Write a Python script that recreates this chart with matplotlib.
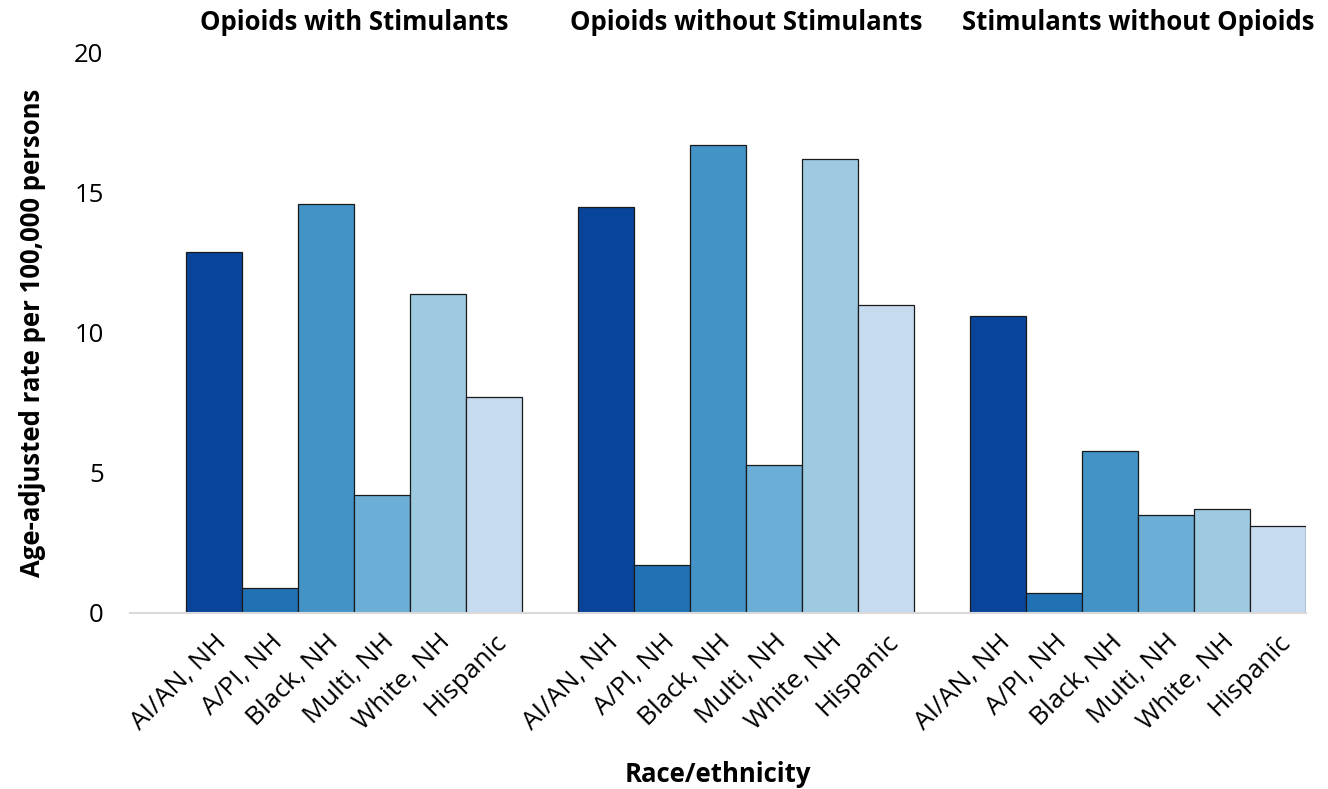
import numpy as np
import matplotlib.pyplot as plt

plt.rcParams['font.family'] = ['Open Sans', 'DejaVu Sans']

groups = ["Opioids with Stimulants", "Opioids without Stimulants", "Stimulants without Opioids"]
races = ["AI/AN, NH", "A/PI, NH", "Black, NH", "Multi, NH", "White, NH", "Hispanic"]
with_stim = [12.9, 0.9, 14.6, 4.2, 11.4, 7.7]
without_stim = [14.5, 1.7, 16.7, 5.3, 16.2, 11.0]
stim_only = [10.6, 0.7, 5.8, 3.5, 3.7, 3.1]
colors = ["#08459a", "#2171b5", "#4393c7", "#6baed6", "#9ecae1", "#c6dbef"]

series = [with_stim, without_stim, stim_only]

fig = plt.figure(figsize=(13.28, 7.89), dpi=100)
ax = fig.add_axes([130 / 1328, 1 - 613 / 789, 1176 / 1328, 560 / 789])

n = len(races)
xticks = []
xlabels = []
for g, vals in enumerate(series):
    x = np.arange(n) + g * (n + 1)
    ax.bar(x, vals, width=1.0, color=colors, edgecolor="#1a1a1a", linewidth=0.9)
    xticks.extend(x)
    xlabels.extend(races)
    ax.text(x.mean(), 21.1, groups[g], ha="center", va="center",
            fontsize=18.5, fontweight="bold")

ax.set_xlim(-1.5, 3 * (n + 1) - 1.5)
ax.set_ylim(0, 20)
ax.set_yticks([0, 5, 10, 15, 20])
ax.set_xticks(xticks)
ax.set_xticklabels(xlabels, rotation=45, ha="right", rotation_mode="anchor")
ax.tick_params(axis="both", length=0, labelsize=18.5)
ax.tick_params(axis="y", pad=19)
ax.tick_params(axis="x", labelsize=19, pad=12)

for s in ["top", "right", "left"]:
    ax.spines[s].set_visible(False)
ax.spines["bottom"].set_color("#d9d9d9")
ax.spines["bottom"].set_linewidth(1.5)

ax.set_ylabel("Age-adjusted rate per 100,000 persons", fontsize=18.5, fontweight="bold", labelpad=20)
ax.set_xlabel("Race/ethnicity", fontsize=18.5, fontweight="bold")
ax.xaxis.set_label_coords(0.5, -0.265)

fig.savefig("out.png", dpi=100)
